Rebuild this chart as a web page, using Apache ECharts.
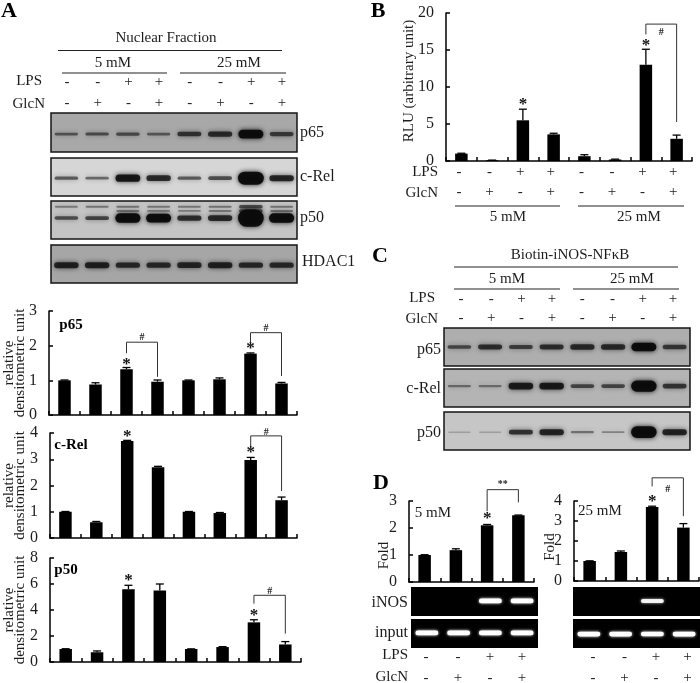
<!DOCTYPE html>
<html><head><meta charset="utf-8">
<style>html,body{margin:0;padding:0;background:#fff}#c{width:700px;height:683px}</style>
<script src="https://cdn.jsdelivr.net/npm/echarts@6/dist/echarts.min.js"></script>
</head><body><div id="c"></div>
<script>
const lanes8=['1','2','3','4','5','6','7','8'];
const lanes4=['1','2','3','4'];
const lpsSigns=['-','-','+','+','-','-','+','+'];
const glcnSigns=['-','+','-','+','-','+','-','+'];

const p65Values=[1,0.88,1.32,0.96,1,1.03,1.77,0.91];
const p65Errors=[0.01,0.05,0.05,0.05,0.01,0.04,0.02,0.03];
const p65Stars=[[2,1.52],[6,1.97]];
const p65Brackets=[[2,3,2.1,1.78,1.1,'#',2.23],[6,7,2.375,2.09,1.125,'#',2.5]];

const cRelValues=[1,0.6,3.7,2.7,1,0.95,2.97,1.44];
const cRelErrors=[0.01,0.03,0.02,0.03,0.01,0.02,0.1,0.12];
const cRelStars=[[2,3.92],[6,3.32]];
const cRelBrackets=[[6,7,3.89,3.5,1.79,'#',4.03]];

const p50Values=[1,0.75,5.6,5.5,1,1.15,3.05,1.35];
const p50Errors=[0.02,0.1,0.3,0.5,0.01,0.03,0.2,0.22];
const p50Stars=[[2,6.44],[6,3.7]];
const p50Brackets=[[6,7,5.13,4.49,2.18,'#',5.4]];

const rluValues=[1,0.1,5.5,3.6,0.65,0.2,13,3];
const rluErrors=[0.05,0.02,1.5,0.15,0.2,0.05,2.1,0.5];
const rluStars=[[2,7.9],[6,15.85]];
const rluBrackets=[[6,7,18.5,17.1,5.27,'#',17.4]];

const fold5Values=[1,1.18,2.1,2.47];
const fold5Errors=[0.01,0.05,0.03,0.01];
const fold5Stars=[[2,2.43]];
const fold5Brackets=[[2,3,3.42,2.62,2.95,'**',3.6]];

const fold25Values=[1,1.45,3.7,2.67];
const fold25Errors=[0.01,0.05,0.04,0.2];
const fold25Stars=[[2,4.08]];
const fold25Brackets=[[2,3,5.16,4.73,3.24,'#',4.56]];

// relative band strength per lane, read from the gels
const blotA_p65=[0.4,0.45,0.48,0.38,0.62,0.68,0.95,0.58];
const blotA_cRel=[0.45,0.38,0.85,0.72,0.45,0.52,1.2,0.75];
const blotA_p50=[0.5,0.55,1,0.95,0.68,0.72,1.4,1];
const blotA_p50upper=[0.25,0.28,0.28,0.26,0.26,0.28,0.5,0.28];
const blotA_p50middle=[0,0,0.25,0.22,0.22,0.25,0.5,0.25];
const blotA_hdac=[0.75,0.75,0.7,0.7,0.72,0.75,0.7,0.7];
const blotC_p65=[0.5,0.66,0.55,0.66,0.7,0.7,0.95,0.6];
const blotC_cRel=[0.3,0.28,0.82,0.82,0.52,0.52,1.1,0.62];
const blotC_p50=[0.03,0.03,0.65,0.75,0.3,0.2,1.12,0.75];
const gel5_iNOS=[0,0,0.8,0.8];
const gel5_input=[0.8,0.8,0.8,0.8];
const gel25_iNOS=[0,0,0.62,0];
const gel25_input=[0.85,0.85,0.75,0.8];

const FONT='"Liberation Serif","Times New Roman",serif';
const INK='#1c1c1c';
const grids=[],xAxes=[],yAxes=[],series=[],graphics=[];

function addBarChart(r,cats,vals,errs,ymax,step,stars,brackets,name,nameGap,namePad){
  const i=grids.length;
  grids.push({left:r[0],top:r[1],width:r[2],height:r[3],containLabel:false});
  const line={color:'#000',width:1.5};
  xAxes.push({gridIndex:i,type:'category',data:cats,boundaryGap:true,
    axisLine:{lineStyle:line},axisLabel:{show:false},
    axisTick:{show:true,inside:true,length:4,alignWithLabel:false,lineStyle:line}});
  yAxes.push({gridIndex:i,type:'value',min:0,max:ymax,interval:step,splitLine:{show:false},
    name:name,nameLocation:'middle',nameGap:nameGap,nameRotate:90,nameMoveOverlap:false,
    nameTextStyle:{fontFamily:FONT,fontSize:15,color:INK,lineHeight:11,padding:namePad||0},
    axisLine:{show:true,lineStyle:line},
    axisTick:{show:true,inside:true,length:4,lineStyle:line},
    axisLabel:{show:true,margin:12,fontFamily:FONT,fontSize:16,color:INK}});
  const base={xAxisIndex:i,yAxisIndex:i,silent:true,animation:false};
  series.push({...base,type:'bar',data:vals,barWidth:12.5,itemStyle:{color:'#000'}});
  series.push({...base,type:'custom',data:errs.map((e,k)=>[k,vals[k],e]),clip:false,
    encode:{x:0,y:1},
    renderItem(p,api){
      const a=api.coord([api.value(0),api.value(1)]),b=api.coord([api.value(0),api.value(1)+api.value(2)]);
      const st={stroke:'#000',lineWidth:1.3,fill:null};
      return {type:'group',children:[
        {type:'line',shape:{x1:a[0],y1:a[1],x2:b[0],y2:b[1]},style:st},
        {type:'line',shape:{x1:b[0]-4,y1:b[1],x2:b[0]+4,y2:b[1]},style:st}]};
    }});
  series.push({...base,type:'custom',data:stars,clip:false,encode:{x:0,y:1},
    renderItem(p,api){
      const a=api.coord([api.value(0),api.value(1)]);
      return {type:'text',style:{text:'*',x:a[0],y:a[1]+2,align:'center',verticalAlign:'middle',
        font:'bold 17px '+FONT,fill:'#111'}};
    }});
  series.push({...base,type:'custom',data:brackets.map(b=>b.slice(0,5).concat(b[6],b[5])),clip:false,encode:{x:0,y:2},
    renderItem(p,api){
      const l=api.value(0),m=api.value(1),t=api.value(2);
      const A=api.coord([l,api.value(3)]),B=api.coord([l,t]),C=api.coord([m,t]),D=api.coord([m,api.value(4)]);
      const L=api.coord([l,api.value(5)]);
      return {type:'group',children:[
        {type:'polyline',shape:{points:[A,B,C,D]},style:{stroke:'#333',lineWidth:1,fill:null}},
        {type:'text',style:{text:brackets[p.dataIndex][5],x:(B[0]+C[0])/2,y:L[1],align:'center',verticalAlign:'middle',
          font:'bold 10px '+FONT,fill:'#222'}}]};
    }});
}

function addBlot(r,cats,bg,rows,light){
  const i=grids.length;
  grids.push({show:true,left:r[0],top:r[1],width:r[2],height:r[3],backgroundColor:bg,
    borderColor:light?bg:'#151515',borderWidth:light?0:1.5,containLabel:false});
  xAxes.push({gridIndex:i,type:'category',data:cats,show:false});
  yAxes.push({gridIndex:i,type:'value',min:0,max:1,show:false});
  rows.forEach(row=>{
    series.push({xAxisIndex:i,yAxisIndex:i,type:'custom',silent:true,animation:false,clip:true,
      data:row[0].map((v,k)=>[k,row[1],v]),encode:{x:0,y:1},
      renderItem(p,api){
        const v=api.value(2);
        if(v<=0) return null;
        const a=api.coord([api.value(0),api.value(1)]);
        const lane=api.size([1,0])[0];
        const w=lane*(light?0.72:(0.72+Math.min(v,1.2)*0.1));
        const h=light?(1.5+v*4):(1.5+v*v*8);
        const al=light?Math.min(1,0.45+v*0.7):Math.min(0.95,0.18+v*0.82);
        const col=light?'rgba(255,255,255,'+al+')':'rgba(10,10,10,'+al+')';
        return {type:'rect',shape:{x:a[0]-w/2,y:a[1]-h/2,width:w,height:h,r:h/2},
          style:{fill:col,shadowBlur:light?3:5,shadowColor:col}};
      }});
  });
}

function txt(t,x,y,o){
  o=o||{};
  graphics.push({type:'text',x:x,y:y,silent:true,style:{text:t,x:0,y:0,
    align:o.align||'center',verticalAlign:'middle',
    font:(o.bold?'bold ':'')+(o.size||15)+'px '+FONT,fill:o.fill||INK}});
}
function rule(x1,x2,y){
  graphics.push({type:'line',silent:true,shape:{x1:x1,y1:y,x2:x2,y2:y},style:{stroke:'#222',lineWidth:1.2}});
}
function signs(arr,x0,step,y){arr.forEach((s,k)=>txt(s,x0+step*k,y,{size:15}));}

/* panel A */
txt('A',9,11,{bold:true,size:22,fill:'#000'});
txt('Nuclear Fraction',166,38);
rule(58,282,50.5);
txt('5 mM',113,63);txt('25 mM',239,63);
rule(62,167,73);rule(180,286,73);
txt('LPS',42,81,{align:'right'});txt('GlcN',45,104,{align:'right'});
signs(lpsSigns,67,30.7,82);signs(glcnSigns,67,30.7,103);
addBlot([51,113,246,39],lanes8,'#a8a8a8',[[blotA_p65,0.46]]);
addBlot([51,158,246,38],lanes8,'#d6d6d6',[[blotA_cRel,0.47]]);
addBlot([51,201,246,38],lanes8,'#c4c4c4',[[blotA_p50upper,0.85],[blotA_p50middle,0.74],[blotA_p50,0.55]]);
addBlot([51,245,246,38],lanes8,'#a6a6a6',[[blotA_hdac,0.47]]);
txt('p65',300,133,{align:'left',size:16});txt('c-Rel',300,177,{align:'left',size:16});
txt('p50',300,218,{align:'left',size:16});txt('HDAC1',302,262,{align:'left',size:16});

const densName='relative\ndensitometric unit';
addBarChart([49,311,248,104],lanes8,p65Values,p65Errors,3,1,p65Stars,p65Brackets,densName,23);
addBarChart([50,433,247,105],lanes8,cRelValues,cRelErrors,4,1,cRelStars,cRelBrackets,densName,24);
addBarChart([50,558,251,104],lanes8,p50Values,p50Errors,8,2,p50Stars,p50Brackets,densName,24);
txt('p65',71,325,{bold:true,size:15,fill:'#000'});
txt('c-Rel',71,445,{bold:true,size:15,fill:'#000'});
txt('p50',66,570,{bold:true,size:15,fill:'#000'});

/* panel B */
txt('B',378,11,{bold:true,size:22,fill:'#000'});
addBarChart([446,13,246,148],lanes8,rluValues,rluErrors,20,5,rluStars,rluBrackets,'RLU (arbitrary unit)',31,[0,0,0,12]);
txt('LPS',438,172,{align:'right'});txt('GlcN',438,193,{align:'right'});
signs(lpsSigns,459,30.6,172);signs(glcnSigns,459,30.6,192);
rule(455,560,206);rule(578,684,206);
txt('5 mM',508,217);txt('25 mM',639,217);

/* panel C */
txt('C',380,256,{bold:true,size:22,fill:'#000'});
txt('Biotin-iNOS-NF\u03baB',570,255);
rule(454,678,267);
txt('5 mM',507,279);txt('25 mM',632,279);
rule(454,560,289);rule(573,679,289);
txt('LPS',435,298,{align:'right'});txt('GlcN',438,319,{align:'right'});
signs(lpsSigns,461,30.3,299);signs(glcnSigns,461,30.3,318);
addBlot([444,328,246,38],lanes8,'#aeaeae',[[blotC_p65,0.5]]);
addBlot([444,369,246,38],lanes8,'#b4b4b4',[[blotC_cRel,0.55]]);
addBlot([444,412,246,38],lanes8,'#c6c6c6',[[blotC_p50,0.47]]);
txt('p65',441,350,{align:'right',size:16});txt('c-Rel',441,389,{align:'right',size:16});
txt('p50',441,433,{align:'right',size:16});

/* panel D */
txt('D',381,483,{bold:true,size:22,fill:'#000'});
addBarChart([409,501,125,81],lanes4,fold5Values,fold5Errors,3,1,fold5Stars,fold5Brackets,'Fold',19,[0,28,0,0]);
addBarChart([574,501,125,80],lanes4,fold25Values,fold25Errors,4,1,fold25Stars,fold25Brackets,'Fold',18,[0,12,0,0]);
txt('5 mM',433,513,{size:15});txt('25 mM',600,511,{size:15});
addBlot([411,587,127,29],lanes4,'#000',[[gel5_iNOS,0.52]],true);
addBlot([411,619,127,29],lanes4,'#000',[[gel5_input,0.52]],true);
addBlot([573,587,127,29],lanes4,'#000',[[gel25_iNOS,0.52]],true);
addBlot([573,619,127,29],lanes4,'#000',[[gel25_input,0.48]],true);
txt('iNOS',408,603,{align:'right',size:16});txt('input',408,633,{align:'right',size:16});
txt('LPS',408,655,{align:'right'});txt('GlcN',408,677,{align:'right'});
signs(lpsSigns.slice(0,4),426,32,657);signs(glcnSigns.slice(0,4),426,32,678);
signs(lpsSigns.slice(0,4),593,31.5,657);signs(glcnSigns.slice(0,4),593,31.5,678);

const chart=echarts.init(document.getElementById('c'),null,{renderer:'canvas'});
chart.setOption({animation:false,backgroundColor:'#fff',grid:grids,xAxis:xAxes,yAxis:yAxes,series:series,graphic:graphics});
</script></body></html>
